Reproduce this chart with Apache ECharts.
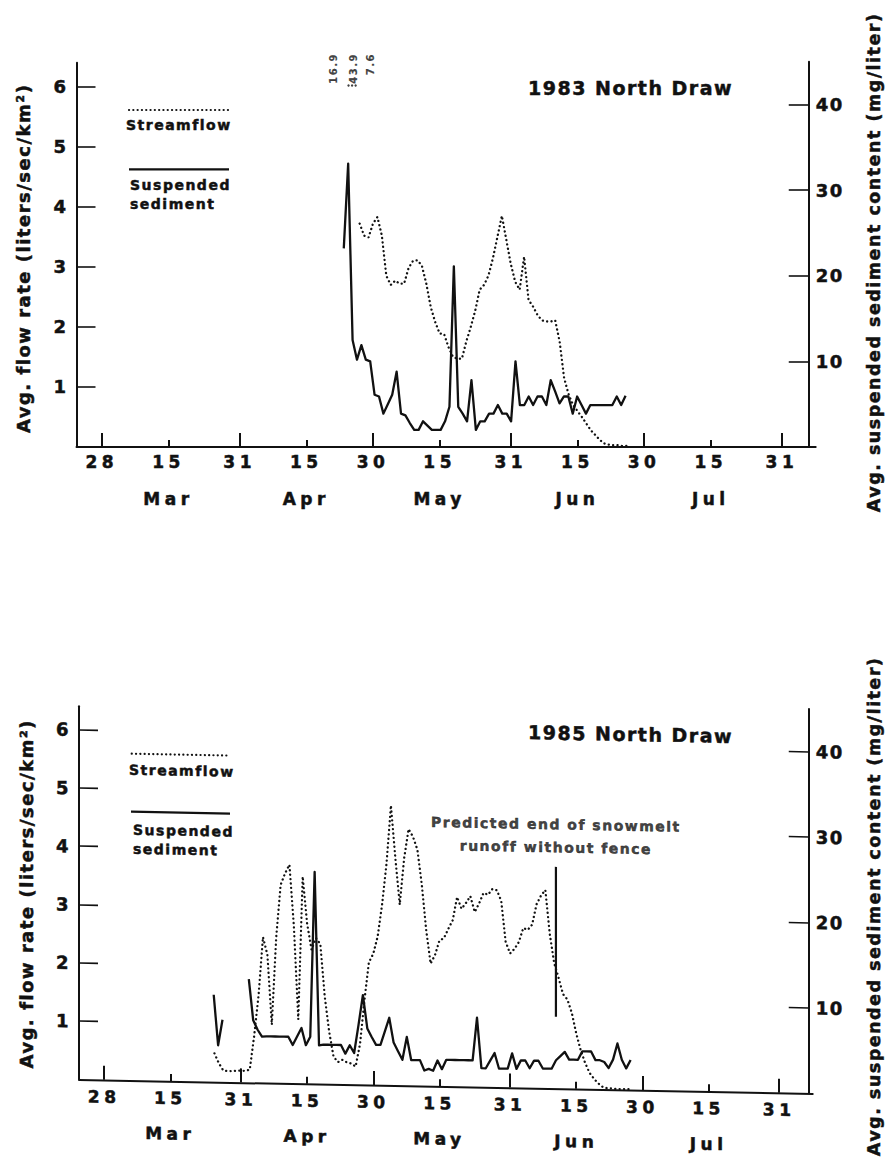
<!DOCTYPE html>
<html>
<head>
<meta charset="utf-8">
<script src="https://cdn.jsdelivr.net/npm/echarts@6/dist/echarts.min.js"></script>
<style>
html, body { margin: 0; padding: 0; background: #fff; width: 891px; height: 1171px; overflow: hidden; }
#top { position: absolute; left: 0; top: 0; width: 891px; height: 585px; }
#bot { position: absolute; left: 0; top: 585px; width: 891px; height: 586px; transform: skewY(1.094deg); transform-origin: 79px 0; }
svg text { letter-spacing: 1.5px; }
svg text[style*="17px"] { letter-spacing: 4.5px; }
</style>
</head>
<body>
<div id="top"></div>
<div id="bot"></div>
<script>
// ---- axis extent (day of year) and tick labels ----
const X_MIN = 53.3, X_MAX = 219.6;
const monthEndDays = [59, 90, 120, 151, 181, 212];
const monthEndLabels = ['28', '31', '30', '31', '30', '31'];
const midMonthDays = [74, 105, 135, 166, 196];
const midMonthLabels = ['15', '15', '15', '15', '15'];
const monthNames = ['Mar', 'Apr', 'May', 'Jun', 'Jul'];
const flowTicks = [1, 2, 3, 4, 5, 6];
const sedTicks = [10, 20, 30, 40];

// ---- 1983 North Draw ----
const flow1983Start = 117; // liters/sec/km2, daily from day 117 (Apr 27)
const flow1983 = [3.72, 3.52, 3.49, 3.72, 3.83, 3.52, 2.85, 2.70, 2.77, 2.72,
  2.72, 2.98, 3.10, 3.11, 3.02, 2.72, 2.33, 2.08, 1.89, 1.88,
  1.66, 1.50, 1.47, 1.47, 1.76, 2.00, 2.27, 2.62, 2.70, 2.86,
  3.15, 3.50, 3.85, 3.45, 3.05, 2.75, 2.62, 3.17, 2.45, 2.34,
  2.20, 2.11, 2.09, 2.09, 2.11, 1.75, 1.15, 0.88, 0.70, 0.60,
  0.50, 0.39, 0.28, 0.20, 0.12, 0.06, 0.04, 0.03, 0.03, 0.02, 0.02];
const sed1983Start = 114; // mg/liter, daily from day 114 (Apr 24)
const sed1983 = [23.2, 33.1, 12.5, 10.2, 11.9, 10.2, 10.0, 6.1, 5.9, 3.9,
  5.0, 6.1, 8.8, 3.9, 3.7, 2.8, 2.0, 2.0, 3.0, 2.5,
  2.0, 2.0, 2.0, 3.0, 4.7, 21.1, 4.7, 3.9, 3.0, 7.8,
  2.0, 3.0, 3.0, 3.9, 3.9, 4.9, 3.9, 3.9, 3.0, 10.0,
  4.9, 4.9, 5.9, 4.9, 5.9, 5.9, 4.9, 7.8, 6.5, 5.1,
  5.9, 5.9, 3.9, 5.9, 4.9, 3.9, 4.9, 4.9, 4.9, 4.9,
  4.9, 4.9, 5.9, 4.9, 6.0];
const offScale1983Days = [111.1, 115.6, 119.4];
const offScale1983Labels = ['16.9', '43.9', '7.6'];
const offScaleLabelTop = 6.56;
const offScale1983Dots = [114.5, 115.3, 116.1];
const offScaleDotLevel = 6.02;

// ---- 1985 North Draw ----
const flow1985Start = 84;
const flow1985 = [0.49, 0.32, 0.20, 0.19, 0.19, 0.20, 0.20, 0.20, 0.22, 0.80,
  1.50, 2.50, 2.20, 1.00, 2.50, 3.40, 3.60, 3.75, 2.70, 1.10,
  3.55, 2.75, 2.30, 2.50, 2.40, 1.50, 0.90, 0.47, 0.38, 0.42,
  0.38, 0.36, 0.31, 0.70, 1.45, 2.10, 2.25, 2.55, 3.10, 3.80,
  4.80, 3.90, 3.10, 3.90, 4.40, 4.27, 4.05, 3.45, 2.67, 2.10,
  2.25, 2.50, 2.54, 2.70, 2.85, 3.25, 3.05, 3.15, 3.27, 3.00,
  3.15, 3.33, 3.30, 3.40, 3.38, 3.20, 2.50, 2.30, 2.38, 2.50,
  2.74, 2.71, 2.80, 3.15, 3.30, 3.40, 2.65, 2.15, 1.90, 1.62,
  1.53, 1.30, 0.95, 0.67, 0.45, 0.28, 0.18, 0.10, 0.04, 0.02,
  0.02, 0.01, 0.01, 0.01, 0.01];
const sed1985Start = 84;
const sed1985 = [10.2, 4.3, 7.3, null, null, null, null, null, 12.1, 7.3,
  6.2, 5.4, 5.45, 5.45, 5.45, 5.45, 5.45, 5.45, 4.5, 5.5,
  6.5, 4.5, 5.5, 24.8, 4.5, 4.6, 4.6, 4.6, 4.6, 4.6,
  3.6, 4.6, 3.7, 7.0, 10.5, 6.6, 5.6, 4.7, 4.7, 6.3,
  7.9, 5.0, 4.0, 3.0, 5.7, 3.0, 3.0, 3.0, 1.8, 2.0,
  1.8, 3.0, 2.0, 3.1, 3.1, 3.1, 3.1, 3.1, 3.1, 3.1,
  8.1, 2.2, 2.2, 3.1, 4.0, 2.2, 2.2, 2.2, 4.0, 2.2,
  3.2, 3.2, 2.3, 3.2, 3.2, 2.3, 2.3, 2.3, 3.3, 3.8,
  4.3, 3.4, 3.4, 3.4, 4.4, 4.4, 4.4, 3.4, 3.4, 3.2,
  2.5, 3.5, 5.4, 3.5, 2.5, 3.5];
const predictedEnd1985Day = 161.4;
const predictedEnd1985Range = [1.23, 3.8];
const predictedEndText = 'Predicted end of snowmelt\nrunoff without fence';

// ---- helpers ----
const FONT = 'DejaVu Sans';
const INK = '#111';
function txt(size, extra) {
  return Object.assign({ fontFamily: FONT, fontWeight: 'bold', fontSize: size, color: INK,
    textBorderColor: INK, textBorderWidth: 0.5 }, extra || {});
}
function toPairs(start, vals) { return vals.map((v, i) => [start + i, v]); }
function nearest(arr, v) {
  let best = 0;
  arr.forEach((d, i) => { if (Math.abs(d - v) < Math.abs(arr[best] - v)) best = i; });
  return best;
}
function legendGraphic(g) {
  const ts = (t, x, y, va) => ({ type: 'text', x: x, y: y, silent: true,
    style: { text: t, fontFamily: FONT, fontWeight: 'bold', fontSize: 14, fill: INK,
      stroke: INK, lineWidth: 0.5, verticalAlign: va, lineHeight: 19 } });
  return [
    { type: 'line', silent: true, shape: { x1: g.dx1, y1: g.dy, x2: g.dx2, y2: g.dy },
      style: { stroke: INK, lineWidth: 2.2, lineDash: [0.1, 4.2], lineCap: 'round' } },
    ts('Streamflow', g.sx, g.sy, 'middle'),
    { type: 'line', silent: true, shape: { x1: g.lx1, y1: g.ly, x2: g.lx2, y2: g.ly },
      style: { stroke: INK, lineWidth: 2.2 } },
    ts('Suspended\nsediment', g.tx, g.ty, 'top')
  ];
}

function buildOption(c) {
  const lineStyle = { color: INK, width: 2 };
  return {
    animation: false,
    backgroundColor: '#fff',
    title: { text: c.title, left: c.titleLeft, top: c.titleTop, textStyle: txt(19) },
    grid: [
      { left: c.left, right: c.right, top: c.flowTop, bottom: c.bottom },
      { left: c.left, right: c.right, top: c.sedTop, bottom: c.bottom }
    ],
    xAxis: [
      { type: 'value', gridIndex: 0, position: 'bottom', min: X_MIN, max: X_MAX,
        axisLine: { show: true, onZero: false, lineStyle: lineStyle },
        axisTick: { show: true, inside: true, length: 14, customValues: monthEndDays, lineStyle: lineStyle },
        axisLabel: Object.assign({ show: true, customValues: monthEndDays, margin: c.dayMargin,
          formatter: v => monthEndLabels[nearest(monthEndDays, v)] }, txt(17)),
        splitLine: { show: false } },
      { type: 'value', gridIndex: 0, position: 'bottom', min: X_MIN, max: X_MAX,
        axisLine: { show: false },
        axisTick: { show: true, inside: true, length: 7, customValues: midMonthDays, lineStyle: lineStyle },
        axisLabel: Object.assign({ show: true, customValues: midMonthDays, margin: c.dayMargin,
          formatter: v => midMonthLabels[nearest(midMonthDays, v)] }, txt(17)),
        splitLine: { show: false } },
      { type: 'value', gridIndex: 0, position: 'bottom', min: X_MIN, max: X_MAX,
        axisLine: { show: false }, axisTick: { show: false },
        axisLabel: Object.assign({ show: true, customValues: midMonthDays, margin: c.monthMargin,
          formatter: v => monthNames[nearest(midMonthDays, v)] }, txt(17)),
        splitLine: { show: false } },
      { type: 'value', gridIndex: 1, show: false, min: X_MIN, max: X_MAX }
    ],
    yAxis: [
      { type: 'value', gridIndex: 0, position: 'left', min: 0, max: 6.4,
        name: 'Avg. flow rate (liters/sec/km²)', nameLocation: 'middle', nameGap: 44, nameRotate: 90,
        nameTextStyle: txt(18, { padding: [0, c.leftNameShift, 0, 0] }),
        axisLine: { show: true, onZero: false, lineStyle: lineStyle },
        axisTick: { show: true, inside: true, length: 19, customValues: flowTicks, lineStyle: { color: INK, width: 1.6 } },
        axisLabel: Object.assign({ show: true, customValues: flowTicks, margin: 9 }, txt(18)),
        splitLine: { show: false } },
      { type: 'value', gridIndex: 1, position: 'right', min: 0, max: 45,
        name: 'Avg. suspended sediment content (mg/liter)', nameLocation: 'middle', nameGap: 56, nameRotate: 90,
        nameTextStyle: txt(17.5, { padding: [0, c.rightNameShift, 0, 0] }),
        axisLine: { show: true, onZero: false, lineStyle: lineStyle },
        axisTick: { show: true, inside: true, length: 20, customValues: sedTicks, lineStyle: { color: INK, width: 1.6 } },
        axisLabel: Object.assign({ show: true, customValues: sedTicks, margin: 7 }, txt(18)),
        splitLine: { show: false } }
    ],
    graphic: legendGraphic(c.legend),
    series: [
      { type: 'line', name: 'Streamflow', xAxisIndex: 0, yAxisIndex: 0, data: c.flow,
        symbol: 'none', silent: true,
        lineStyle: { color: INK, width: 2.3, type: [0.1, 4.3], cap: 'round' } },
      { type: 'line', name: 'Suspended sediment', xAxisIndex: 3, yAxisIndex: 1, data: c.sed,
        symbol: 'none', silent: true, connectNulls: false,
        lineStyle: { color: INK, width: 2.3, join: 'round' } }
    ].concat(c.extra)
  };
}

// ---- top chart: 1983 ----
const topExtra = [
  { type: 'scatter', xAxisIndex: 0, yAxisIndex: 0, clip: false, silent: true, symbolSize: 0.1,
    itemStyle: { color: 'rgba(0,0,0,0)' },
    data: offScale1983Days.map((d, i) => [d, offScaleLabelTop, offScale1983Labels[i]]),
    label: Object.assign({ show: true, formatter: p => p.value[2], rotate: 90, position: 'inside',
      align: 'right', verticalAlign: 'middle' }, txt(10, { textBorderWidth: 0.2 })) },
  { type: 'scatter', xAxisIndex: 0, yAxisIndex: 0, clip: false, silent: true, symbolSize: 2.4,
    itemStyle: { color: INK },
    data: offScale1983Dots.map(d => [d, offScaleDotLevel]) }
];
const topChart = echarts.init(document.getElementById('top'), null, { renderer: 'svg', width: 891, height: 585 });
topChart.setOption(buildOption({
  title: '1983 North Draw', titleLeft: 523, titleTop: 73,
  left: 76.5, right: 75.3, flowTop: 62.7, sedTop: 61.8, bottom: 138,
  dayMargin: 6, monthMargin: 43, leftNameShift: 7, rightNameShift: 16,
  flow: toPairs(flow1983Start, flow1983), sed: toPairs(sed1983Start, sed1983),
  legend: { dx1: 129, dx2: 229, dy: 110, sx: 126, sy: 125, lx1: 129, lx2: 229, ly: 169.3, tx: 130, ty: 175.5 },
  extra: topExtra
}));

// ---- bottom chart: 1985 ----
const botExtra = [
  { type: 'line', xAxisIndex: 0, yAxisIndex: 0, silent: true, symbol: 'none',
    data: predictedEnd1985Range.map(v => [predictedEnd1985Day, v]),
    lineStyle: { color: INK, width: 2.2 } },
  { type: 'scatter', xAxisIndex: 0, yAxisIndex: 0, silent: true, symbolSize: 0.1,
    itemStyle: { color: 'rgba(0,0,0,0)' },
    data: [[predictedEnd1985Day, predictedEnd1985Range[1]]],
    label: Object.assign({ show: true, formatter: predictedEndText, position: 'top', distance: 8,
      align: 'center', lineHeight: 23 }, txt(14)) }
];
const botChart = echarts.init(document.getElementById('bot'), null, { renderer: 'svg', width: 891, height: 586 });
botChart.setOption(buildOption({
  title: '1985 North Draw', titleLeft: 523, titleTop: 124,
  left: 79, right: 78.3, flowTop: 121.2, sedTop: 110, bottom: 91.7,
  dayMargin: 8.5, monthMargin: 44, leftNameShift: 4, rightNameShift: 8,
  flow: toPairs(flow1985Start, flow1985), sed: toPairs(sed1985Start, sed1985),
  legend: { dx1: 131.7, dx2: 230, dy: 167.7, sx: 129, sy: 183.7, lx1: 131, lx2: 230, ly: 225.7, tx: 133, ty: 234.2 },
  extra: botExtra
}));
</script>
</body>
</html>
